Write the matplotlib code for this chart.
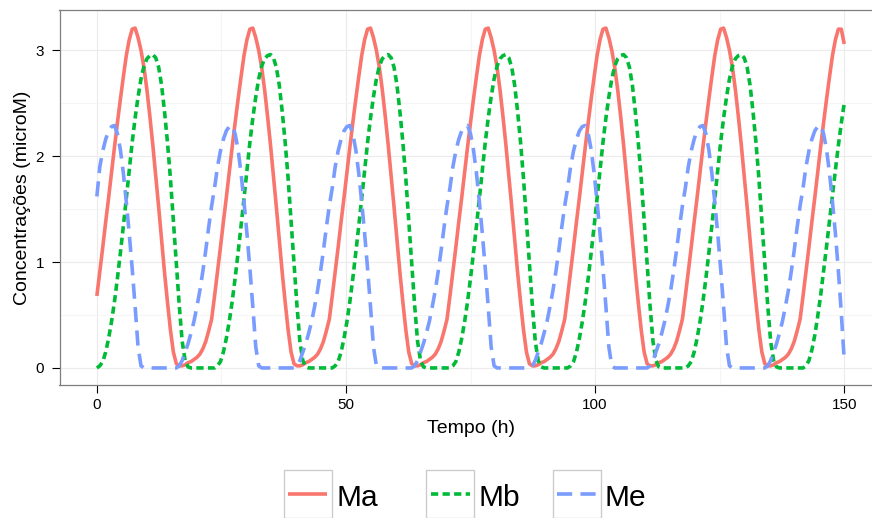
import numpy as np
import matplotlib
matplotlib.use("Agg")
import matplotlib.pyplot as plt
from matplotlib.patches import Rectangle

plt.rcParams['font.family'] = ['Liberation Sans', 'DejaVu Sans']

# ---------------- data ----------------
# time samples, hours
time_h = np.linspace(0, 150, 255)

Ma = [
    0.68, 0.91, 1.14, 1.38, 1.61, 1.85, 2.09, 2.32, 2.54, 2.75,
    2.95, 3.10, 3.20, 3.21, 3.12, 3.00, 2.84, 2.63, 2.38, 2.11,
    1.82, 1.52, 1.21, 0.90, 0.62, 0.36, 0.15, 0.04, 0.02, 0.02,
    0.03, 0.05, 0.06, 0.08, 0.10, 0.13, 0.18, 0.25, 0.35, 0.46,
    0.68, 0.91, 1.14, 1.38, 1.61, 1.85, 2.09, 2.32, 2.54, 2.75,
    2.95, 3.10, 3.20, 3.21, 3.12, 3.00, 2.84, 2.63, 2.38, 2.11,
    1.82, 1.52, 1.21, 0.90, 0.62, 0.36, 0.15, 0.04, 0.02, 0.02,
    0.03, 0.05, 0.06, 0.08, 0.10, 0.13, 0.18, 0.25, 0.35, 0.46,
    0.68, 0.91, 1.14, 1.38, 1.61, 1.85, 2.09, 2.32, 2.54, 2.75,
    2.95, 3.10, 3.20, 3.21, 3.12, 3.00, 2.84, 2.63, 2.38, 2.11,
    1.82, 1.52, 1.21, 0.90, 0.62, 0.36, 0.15, 0.04, 0.02, 0.02,
    0.03, 0.05, 0.06, 0.08, 0.10, 0.13, 0.18, 0.25, 0.35, 0.46,
    0.68, 0.91, 1.14, 1.38, 1.61, 1.85, 2.09, 2.32, 2.54, 2.75,
    2.95, 3.10, 3.20, 3.21, 3.12, 3.00, 2.84, 2.63, 2.38, 2.11,
    1.82, 1.52, 1.21, 0.90, 0.62, 0.36, 0.15, 0.04, 0.02, 0.02,
    0.03, 0.05, 0.06, 0.08, 0.10, 0.13, 0.18, 0.25, 0.35, 0.46,
    0.68, 0.91, 1.14, 1.38, 1.61, 1.85, 2.09, 2.32, 2.54, 2.75,
    2.95, 3.10, 3.20, 3.21, 3.12, 3.00, 2.84, 2.63, 2.38, 2.11,
    1.82, 1.52, 1.21, 0.90, 0.62, 0.36, 0.15, 0.04, 0.02, 0.02,
    0.03, 0.05, 0.06, 0.08, 0.10, 0.13, 0.18, 0.25, 0.35, 0.46,
    0.68, 0.91, 1.14, 1.38, 1.61, 1.85, 2.09, 2.32, 2.54, 2.75,
    2.95, 3.10, 3.20, 3.21, 3.12, 3.00, 2.84, 2.63, 2.38, 2.11,
    1.82, 1.52, 1.21, 0.90, 0.62, 0.36, 0.15, 0.04, 0.02, 0.02,
    0.03, 0.05, 0.06, 0.08, 0.10, 0.13, 0.18, 0.25, 0.35, 0.46,
    0.68, 0.91, 1.14, 1.38, 1.61, 1.85, 2.09, 2.32, 2.54, 2.75,
    2.95, 3.10, 3.20, 3.20, 3.06,
]

Mb = [
    0.00, 0.02, 0.06, 0.15, 0.28, 0.44, 0.63, 0.85, 1.09, 1.34,
    1.60, 1.87, 2.13, 2.36, 2.56, 2.73, 2.85, 2.92, 2.95, 2.96,
    2.93, 2.84, 2.67, 2.42, 2.13, 1.79, 1.39, 1.00, 0.59, 0.25,
    0.07, 0.01, 0.00, 0.00, 0.00, 0.00, 0.00, 0.00, 0.00, 0.00,
    0.00, 0.02, 0.06, 0.15, 0.28, 0.44, 0.63, 0.85, 1.09, 1.34,
    1.60, 1.87, 2.13, 2.36, 2.56, 2.73, 2.85, 2.92, 2.95, 2.96,
    2.93, 2.84, 2.67, 2.42, 2.13, 1.79, 1.39, 1.00, 0.59, 0.25,
    0.07, 0.01, 0.00, 0.00, 0.00, 0.00, 0.00, 0.00, 0.00, 0.00,
    0.00, 0.02, 0.06, 0.15, 0.28, 0.44, 0.63, 0.85, 1.09, 1.34,
    1.60, 1.87, 2.13, 2.36, 2.56, 2.73, 2.85, 2.92, 2.95, 2.96,
    2.93, 2.84, 2.67, 2.42, 2.13, 1.79, 1.39, 1.00, 0.59, 0.25,
    0.07, 0.01, 0.00, 0.00, 0.00, 0.00, 0.00, 0.00, 0.00, 0.00,
    0.00, 0.02, 0.06, 0.15, 0.28, 0.44, 0.63, 0.85, 1.09, 1.34,
    1.60, 1.87, 2.13, 2.36, 2.56, 2.73, 2.85, 2.92, 2.95, 2.96,
    2.93, 2.84, 2.67, 2.42, 2.13, 1.79, 1.39, 1.00, 0.59, 0.25,
    0.07, 0.01, 0.00, 0.00, 0.00, 0.00, 0.00, 0.00, 0.00, 0.00,
    0.00, 0.02, 0.06, 0.15, 0.28, 0.44, 0.63, 0.85, 1.09, 1.34,
    1.60, 1.87, 2.13, 2.36, 2.56, 2.73, 2.85, 2.92, 2.95, 2.96,
    2.93, 2.84, 2.67, 2.42, 2.13, 1.79, 1.39, 1.00, 0.59, 0.25,
    0.07, 0.01, 0.00, 0.00, 0.00, 0.00, 0.00, 0.00, 0.00, 0.00,
    0.00, 0.02, 0.06, 0.15, 0.28, 0.44, 0.63, 0.85, 1.09, 1.34,
    1.60, 1.87, 2.13, 2.36, 2.56, 2.73, 2.85, 2.92, 2.95, 2.96,
    2.93, 2.84, 2.67, 2.42, 2.13, 1.79, 1.39, 1.00, 0.59, 0.25,
    0.07, 0.01, 0.00, 0.00, 0.00, 0.00, 0.00, 0.00, 0.00, 0.00,
    0.00, 0.02, 0.07, 0.17, 0.31, 0.49, 0.69, 0.92, 1.15, 1.39,
    1.63, 1.87, 2.10, 2.31, 2.50,
]

Me = [
    1.62, 1.90, 2.05, 2.16, 2.24, 2.28, 2.29, 2.21, 2.06, 1.84,
    1.57, 1.27, 0.94, 0.58, 0.20, 0.02, 0.00, 0.00, 0.00, 0.00,
    0.00, 0.00, 0.00, 0.00, 0.00, 0.00, 0.00, 0.00, 0.02, 0.07,
    0.15, 0.23, 0.33, 0.44, 0.58, 0.73, 0.91, 1.11, 1.33, 1.53,
    1.70, 1.90, 2.05, 2.16, 2.24, 2.28, 2.29, 2.21, 2.06, 1.84,
    1.57, 1.27, 0.94, 0.58, 0.20, 0.02, 0.00, 0.00, 0.00, 0.00,
    0.00, 0.00, 0.00, 0.00, 0.00, 0.00, 0.00, 0.00, 0.02, 0.07,
    0.15, 0.23, 0.33, 0.44, 0.58, 0.73, 0.91, 1.11, 1.33, 1.53,
    1.70, 1.90, 2.05, 2.16, 2.24, 2.28, 2.29, 2.21, 2.06, 1.84,
    1.57, 1.27, 0.94, 0.58, 0.20, 0.02, 0.00, 0.00, 0.00, 0.00,
    0.00, 0.00, 0.00, 0.00, 0.00, 0.00, 0.00, 0.00, 0.02, 0.07,
    0.15, 0.23, 0.33, 0.44, 0.58, 0.73, 0.91, 1.11, 1.33, 1.53,
    1.70, 1.90, 2.05, 2.16, 2.24, 2.28, 2.29, 2.21, 2.06, 1.84,
    1.57, 1.27, 0.94, 0.58, 0.20, 0.02, 0.00, 0.00, 0.00, 0.00,
    0.00, 0.00, 0.00, 0.00, 0.00, 0.00, 0.00, 0.00, 0.02, 0.07,
    0.15, 0.23, 0.33, 0.44, 0.58, 0.73, 0.91, 1.11, 1.33, 1.53,
    1.70, 1.90, 2.05, 2.16, 2.24, 2.28, 2.29, 2.21, 2.06, 1.84,
    1.57, 1.27, 0.94, 0.58, 0.20, 0.02, 0.00, 0.00, 0.00, 0.00,
    0.00, 0.00, 0.00, 0.00, 0.00, 0.00, 0.00, 0.00, 0.02, 0.07,
    0.15, 0.23, 0.33, 0.44, 0.58, 0.73, 0.91, 1.11, 1.33, 1.53,
    1.70, 1.90, 2.05, 2.16, 2.24, 2.28, 2.29, 2.21, 2.06, 1.84,
    1.57, 1.27, 0.94, 0.58, 0.20, 0.02, 0.00, 0.00, 0.00, 0.00,
    0.00, 0.00, 0.00, 0.00, 0.00, 0.00, 0.00, 0.00, 0.02, 0.07,
    0.15, 0.23, 0.33, 0.44, 0.58, 0.73, 0.91, 1.11, 1.33, 1.53,
    1.70, 1.90, 2.05, 2.16, 2.24, 2.28, 2.29, 2.21, 2.06, 1.84,
    1.57, 1.27, 0.92, 0.52, 0.07,
]

series_names = ['Ma', 'Mb', 'Me']
x_ticks = [0, 50, 100, 150]
y_ticks = [0, 1, 2, 3]
x_label = 'Tempo (h)'
y_label = 'Concentrações (microM)'

# ---------------- styling ----------------
colors = ['#F8766D', '#00BA38', '#7A9CFF']
LW = 2.6
styles = ['-', (0, (2.0, 1.2)), (0, (4.2, 2.3))]

W, H = 872, 518
fig = plt.figure(figsize=(W / 100, H / 100), dpi=100)
L, R, T, B = 59.5, 881.6, 10.0, 385.0
ax = fig.add_axes([L / W, 1 - B / H, (R - L) / W, (B - T) / H])

for name, vals, c, ls in zip(series_names, [Ma, Mb, Me], colors, styles):
    ax.plot(time_h, vals, color=c, lw=LW, linestyle=ls,
            dash_capstyle='butt', solid_capstyle='butt', zorder=3)

ax.set_xlim(-7.5, 157.5)
ax.set_ylim(-0.161, 3.381)
ax.set_xticks(x_ticks)
ax.set_yticks(y_ticks)
ax.set_xticks([25, 75, 125], minor=True)
ax.set_yticks([0.5, 1.5, 2.5], minor=True)
ax.grid(which='major', color='#EBEBEB', lw=0.8, zorder=0)
ax.grid(which='minor', color='#F5F5F5', lw=0.8, zorder=0)
ax.set_axisbelow(True)
ax.tick_params(which='minor', length=0)
ax.tick_params(axis='x', which='major', length=5.8, width=0.8, color='black',
               labelsize=11, labelcolor='black', pad=3.5)
ax.tick_params(axis='y', which='major', length=5.8, width=0.8, color='black',
               labelsize=11, labelcolor='black', pad=5.4)
for s in ax.spines.values():
    s.set_color('#7F7F7F')
    s.set_linewidth(0.9)

ax.set_xlabel(x_label, fontsize=14, va='baseline')
ax.xaxis.set_label_coords(0.5, (B - 433) / (B - T))
fig.text(23 / W, 1 - 197.5 / H, y_label, rotation=90, ha='center',
         va='center', fontsize=14)

# ---------------- legend (pixel overlay) ----------------
lax = fig.add_axes([0, 0, 1, 1], facecolor='none')
lax.set_xlim(0, W)
lax.set_ylim(H, 0)
lax.axis('off')
box_x = [283.5, 426.0, 552.5]
text_x = [336.0, 478.0, 604.0]
for name, c, ls, bx, tx in zip(series_names, colors, styles, box_x, text_x):
    lax.add_patch(Rectangle((bx, 469.8), 48, 48, facecolor='white',
                            edgecolor='#CCCCCC', lw=1.0))
    lax.plot([bx + 4.5, bx + 43.5], [494, 494], color=c, lw=LW, linestyle=ls,
             dash_capstyle='butt', solid_capstyle='butt')
    lax.text(tx, 505.5, name, fontsize=21.5, va='baseline', ha='left',
             color='black')

fig.savefig('out.png', dpi=100)
